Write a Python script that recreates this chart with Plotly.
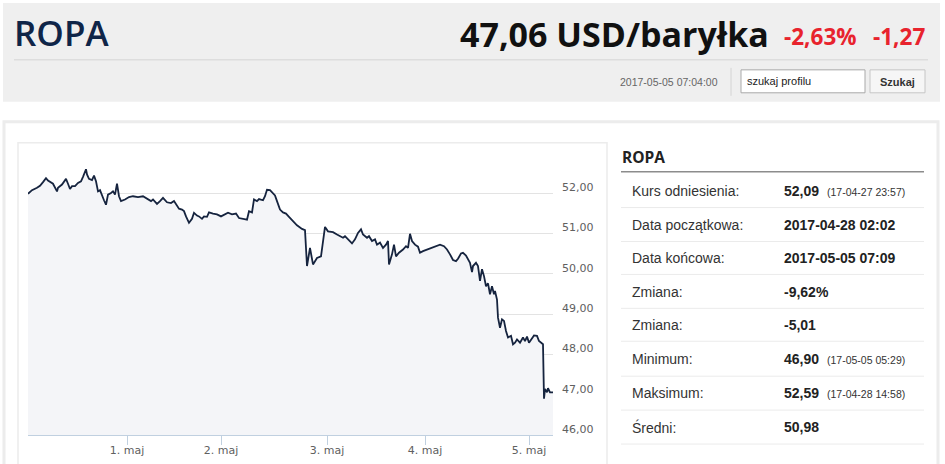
import plotly.graph_objects as go

W, H = 945, 464

# header values
instrument = "ROPA"
price_text = "47,06 USD/baryłka"
change_pct = "-2,63%"
change_abs = "-1,27"
timestamp = "2017-05-05 07:04:00"
search_placeholder = "szukaj profilu"
search_button = "Szukaj"

# price series (ordinal sample index -> USD)
sample_idx = [
    0, 4, 9, 12, 15, 18, 20, 23, 25, 29, 30, 34, 38, 40, 42, 44, 47, 50, 53, 55,
    58, 59, 61, 64, 66, 68, 70, 72, 74, 76, 78, 80, 83, 85, 87, 89, 91, 93, 97, 101,
    105, 110, 115, 120, 123, 125, 129, 132, 135, 139, 143, 146, 149, 151, 154, 156, 158, 161, 164, 166,
    169, 171, 174, 176, 179, 181, 185, 189, 193, 197, 200, 204, 208, 211, 215, 219, 221, 224, 226, 229,
    231, 235, 237, 239, 242, 245, 247, 249, 252, 255, 258, 261, 265, 269, 274, 277, 279, 282, 285, 289,
    293, 295, 297, 300, 305, 309, 312, 315, 317, 320, 324, 327, 330, 333, 335, 339, 341, 344, 347, 349,
    352, 355, 358, 360, 361, 364, 366, 368, 371, 375, 378, 380, 382, 384, 387, 390, 392, 395, 399, 402,
    407, 412, 416, 419, 422, 425, 428, 430, 433, 435, 438, 440, 442, 444, 445, 448, 450, 452, 454, 456,
    458, 460, 462, 464, 466, 467, 469, 470, 472, 474, 476, 478, 480, 483, 485, 487, 489, 492, 495, 497,
    499, 501, 504, 506, 509, 511, 515, 516, 517, 519, 520, 522, 525,
]
prices = [
    51.98, 52.07, 52.13, 52.18, 52.27, 52.37, 52.31, 52.27, 52.23, 52.04, 52.13, 52.21, 52.35, 52.23, 52.10, 52.17, 52.17, 52.25, 52.29, 52.40,
    52.59, 52.46, 52.35, 52.32, 52.43, 52.29, 52.04, 52.07, 51.92, 51.82, 51.71, 51.96, 52.00, 52.04, 51.96, 52.23, 51.92, 51.80, 51.84, 51.90,
    51.92, 51.90, 51.92, 51.85, 51.80, 51.84, 51.73, 51.80, 51.88, 51.77, 51.75, 51.80, 51.67, 51.61, 51.59, 51.55, 51.42, 51.26, 51.36, 51.51,
    51.44, 51.42, 51.36, 51.42, 51.41, 51.52, 51.49, 51.47, 51.42, 51.47, 51.51, 51.47, 51.49, 51.38, 51.36, 51.34, 51.55, 51.52, 51.84, 51.80,
    51.85, 51.82, 51.92, 52.08, 52.07, 51.99, 51.94, 51.80, 51.59, 51.52, 51.49, 51.41, 51.30, 51.20, 51.11, 51.08, 50.19, 50.64, 50.23, 50.39,
    50.43, 50.85, 51.16, 51.05, 51.03, 50.97, 50.93, 50.89, 50.93, 50.85, 50.75, 50.85, 51.01, 51.10, 50.97, 50.89, 50.93, 50.81, 50.85, 50.72,
    50.77, 50.64, 50.72, 50.81, 50.23, 50.48, 50.72, 50.43, 50.52, 50.60, 50.68, 50.64, 50.99, 50.81, 50.72, 50.67, 50.52, 50.56, 50.60, 50.64,
    50.68, 50.72, 50.68, 50.60, 50.48, 50.34, 50.31, 50.37, 50.50, 50.52, 50.45, 50.35, 50.27, 50.04, 50.19, 50.27, 50.19, 49.82, 50.11, 49.94,
    49.69, 49.76, 49.49, 49.69, 49.49, 49.57, 49.36, 48.91, 48.66, 48.87, 48.83, 48.58, 48.42, 48.46, 48.25, 48.29, 48.37, 48.29, 48.42, 48.33,
    48.44, 48.29, 48.42, 48.47, 48.46, 48.33, 48.25, 46.90, 47.14, 47.06, 47.16, 47.06, 47.06,
]

day_ticks = [99, 193, 299, 397, 501]
day_labels = ["1. maj", "2. maj", "3. maj", "4. maj", "5. maj"]
price_ticks = [46, 47, 48, 49, 50, 51, 52, 53]
price_labels = ["46,00", "47,00", "48,00", "49,00", "50,00", "51,00", "52,00", ""]

# stats table
stat_title = "ROPA"
stat_labels = ["Kurs odniesienia:", "Data początkowa:", "Data końcowa:", "Zmiana:",
               "Zmiana:", "Minimum:", "Maksimum:", "Średni:"]
stat_values = ["52,09", "2017-04-28 02:02", "2017-05-05 07:09", "-9,62%",
               "-5,01", "46,90", "52,59", "50,98"]
stat_notes = ["(17-04-27 23:57)", "", "", "", "", "(17-05-05 05:29)", "(17-04-28 14:58)", ""]


def px(x):
    return x / W


def py(y):
    return 1 - y / H


shapes = []
annotations = []


def rect(x0, y0, x1, y1, fill, line="rgba(0,0,0,0)", lw=1):
    shapes.append(dict(type="rect", xref="paper", yref="paper", x0=px(x0), x1=px(x1),
                       y0=py(y1), y1=py(y0), fillcolor=fill, line=dict(color=line, width=lw),
                       layer="below"))


def hline(x0, x1, y, color, lw=1):
    shapes.append(dict(type="line", xref="paper", yref="paper", x0=px(x0), x1=px(x1),
                       y0=py(y), y1=py(y), line=dict(color=color, width=lw)))


def text(x, y, s, size, color, family="Liberation Sans", anchor="left", weight="normal"):
    annotations.append(dict(xref="paper", yref="paper", x=px(x), y=py(y), text=s,
                            showarrow=False, xanchor=anchor, yanchor="middle",
                            font=dict(size=size, color=color, family=family, weight=weight)))


# header bar
rect(3, 3, 940, 102, "#efefef")
hline(14, 928, 60, "#d4d4d4")
shapes.append(dict(type="line", xref="paper", yref="paper", x0=px(731), x1=px(731),
                   y0=py(96), y1=py(68), line=dict(color="#d4d4d4", width=1)))
rect(741, 70, 865, 93, "#ffffff", "#a9a9a9")
rect(870, 70, 925, 93, "#f6f6f6", "#c6c6c6")
text(12, 33, instrument, 35, "#0f2548", "Open Sans", weight=600)
text(771, 34, price_text, 34, "#111111", "Open Sans", "right", weight="bold")
text(782, 37, change_pct, 22.5, "#e8232d", "Open Sans", weight="bold")
text(871, 37, change_abs, 22.5, "#e8232d", "Open Sans", weight="bold")
text(720, 82, timestamp, 10.5, "#666666", anchor="right")
text(745, 81, search_placeholder, 11, "#222222")
text(897.5, 82, search_button, 11, "#333333", anchor="center", weight="bold")

# content panel and chart frame
rect(4, 122, 938, 480, "#ffffff", "#ececec", 3)
rect(18, 143, 607, 480, "#ffffff", "#ececec", 1.5)

# stats table
text(620, 157, stat_title, 15.5, "#222222", "Open Sans", weight="bold")
hline(621, 924, 172, "#8c8c8c", 1.5)
row_y = [191, 225, 259, 293, 326, 360, 394, 428]
sep_y = [208, 242, 275, 309, 342, 377, 411, 445]
for lab, val, note, ry, sy in zip(stat_labels, stat_values, stat_notes, row_y, sep_y):
    text(630, ry, lab, 14, "#333333")
    text(782, ry, val, 14, "#222222", weight="bold")
    if note:
        text(825, ry + 1, note, 10.5, "#333333")
    hline(621, 924, sy, "#ebebeb")

fig = go.Figure()
fig.add_trace(go.Scatter(
    x=sample_idx, y=prices, mode="lines", fill="tozeroy",
    fillcolor="#f4f5f8", line=dict(color="#16243f", width=1.8),
    hoverinfo="skip", showlegend=False,
))

# start 16px shorter so the page (with the default 8px body margin) is exactly H tall;
# the post script drops the margin and restores the full height
fig.update_layout(
    width=W, height=H - 16,
    margin=dict(l=0, r=0, t=0, b=0),
    paper_bgcolor="#ffffff", plot_bgcolor="rgba(0,0,0,0)",
    shapes=shapes, annotations=annotations,
    xaxis=dict(domain=[px(28), px(553)], range=[0, 525], tickvals=day_ticks,
               ticktext=day_labels, showgrid=False, zeroline=False, showline=True,
               linecolor="#c0d0e0", linewidth=1, ticks="outside", ticklen=9,
               tickcolor="#c0d0e0", ticklabelstandoff=-4,
               tickfont=dict(family="DejaVu Sans", size=11, color="#606060")),
    yaxis=dict(domain=[py(436), py(153)], range=[46, 53], side="right",
               tickvals=price_ticks, ticktext=price_labels, showgrid=True,
               gridcolor="#e3e3e3", zeroline=False, showline=False, ticks="",
               ticklabelstandoff=8, ticklabelshift=-6,
               tickfont=dict(family="DejaVu Sans", size=11, color="#606060")),
)

fix_page = (
    "document.body.style.margin='0';"
    "var gd=document.getElementById('{plot_id}');"
    "gd.style.height='464px';"
    "Plotly.relayout(gd,{height:464});"
)
fig.write_html("out.html", config={"displayModeBar": False}, post_script=fix_page)
